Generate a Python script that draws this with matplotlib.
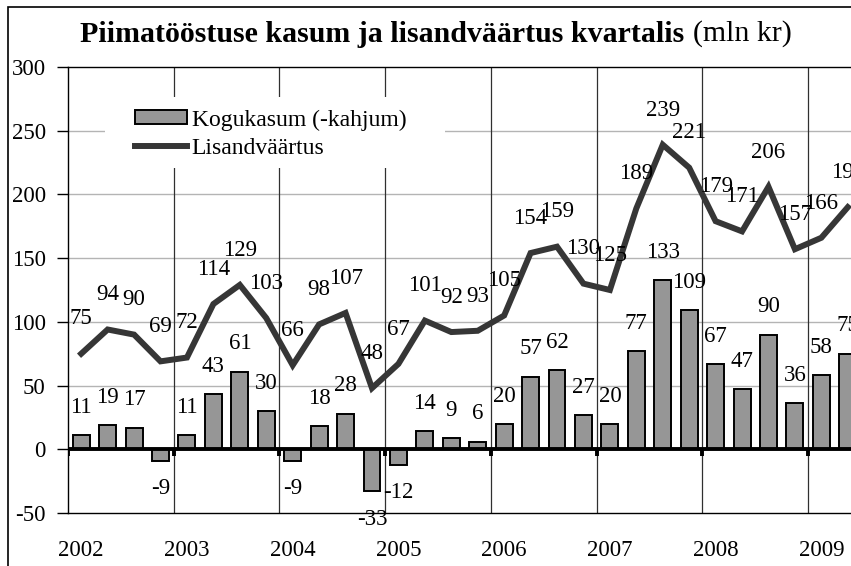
import numpy as np
import matplotlib.pyplot as plt
from matplotlib.patches import Rectangle

# quarterly data, 2002 Q1 .. 2009 Q2
years = ['2002', '2003', '2004', '2005', '2006', '2007', '2008', '2009']
kasum = [11, 19, 17, -9, 11, 43, 61, 30, -9, 18, 28, -33, -12, 14, 9, 6,
         20, 57, 62, 27, 20, 77, 133, 109, 67, 47, 90, 36, 58, 75]
lisand = [75, 94, 90, 69, 72, 114, 129, 103, 66, 98, 107, 48, 67, 101, 92, 93,
          105, 154, 159, 130, 125, 189, 239, 221, 179, 171, 206, 157, 166, 190]
yticks = [-50, 0, 50, 100, 150, 200, 250, 300]

plt.rcParams['font.family'] = ['Liberation Serif', 'DejaVu Serif']
fs = 16.5
bar_col = '#969696'
line_col = '#363636'

W, H = 851, 566
fig = plt.figure(figsize=(W / 100, H / 100), dpi=100)

# outer frame (only left and top are inside the picture)
fig.add_artist(Rectangle((8 / W, -0.1), 2, 1 - 7 / H + 0.1, transform=fig.transFigure,
                         fill=False, edgecolor='black', lw=1.2))

ax = fig.add_axes([68 / W, (H - 513) / H, 793 / W, 446 / H])
n = len(kasum)
x = np.arange(n) + 0.5

ax.set_xlim(0, n)
ax.set_ylim(-50, 300)
ax.set_yticks(yticks)
ax.set_yticklabels([str(v) for v in yticks], fontsize=fs)
ax.tick_params(axis='y', direction='out', length=8, width=1, pad=8, colors='black')
ax.set_xticks([])

for s in ['right']:
    ax.spines[s].set_visible(False)
for s in ['left', 'top', 'bottom']:
    ax.spines[s].set_linewidth(1.0)
    ax.spines[s].set_color('black')

# grid
for v in [50, 100, 150, 200, 250]:
    ax.axhline(v, color='#b4b4b4', lw=1.0, zorder=0.5)
for k in range(1, len(years)):
    ax.axvline(4 * k, color='#303030', lw=0.9, zorder=0.6)

# white box behind legend
ax.add_patch(Rectangle((37 / 793, (513 - 168) / 446), 340 / 793, 71 / 446,
                       transform=ax.transAxes, facecolor='white', edgecolor='none', zorder=1))

bars = ax.bar(x, kasum, width=0.64, color=bar_col, edgecolor='black', lw=1.4, zorder=2,
              label='Kogukasum (-kahjum)')
ln, = ax.plot(x, lisand, color=line_col, lw=4.3, zorder=3, solid_joinstyle='miter',
              label='Lisandväärtus')

# zero line with small ticks at year boundaries
ax.axhline(0, color='black', lw=2.8, zorder=4)
ax.vlines([4 * k for k in range(len(years))], -5.5, 0, color='black', lw=2.8, zorder=4)

# labels
for xi, v in zip(x, kasum):
    off = 20 if v >= 0 else -20
    ax.annotate(str(v), (xi, v), xytext=(0, off), textcoords='offset points',
                ha='center', va='center', fontsize=fs, zorder=5, annotation_clip=False)
for xi, v in zip(x, lisand):
    ax.annotate(str(v), (xi, v), xytext=(0, 25), textcoords='offset points',
                ha='center', va='center', fontsize=fs, zorder=5, annotation_clip=False)

for k, yr in enumerate(years):
    ax.text(4 * k + 0.5, -0.083, yr, transform=ax.get_xaxis_transform(),
            ha='center', va='center', fontsize=fs, clip_on=False)

leg = ax.legend(handles=[bars, ln], loc='center left', bbox_to_anchor=((135 - 68) / 793, (513 - 134) / 446),
                frameon=False, fontsize=17, borderpad=0, borderaxespad=0, handlelength=2.2,
                handleheight=0.55, handletextpad=0.2, labelspacing=0.3)
leg.set_zorder(6)

# title: bold part + normal part
t1 = fig.text(80 / W, 1 - 34 / H, 'Piimatööstuse kasum ja lisandväärtus kvartalis',
              fontsize=21.5, fontweight='bold', ha='left', va='center')
fig.canvas.draw()
bb = t1.get_window_extent(renderer=fig.canvas.get_renderer())
fig.text(bb.x1 / W + 9 / W, 1 - 34 / H, '(mln kr)', fontsize=21.5, ha='left', va='center')

fig.savefig('out.png', dpi=100)
